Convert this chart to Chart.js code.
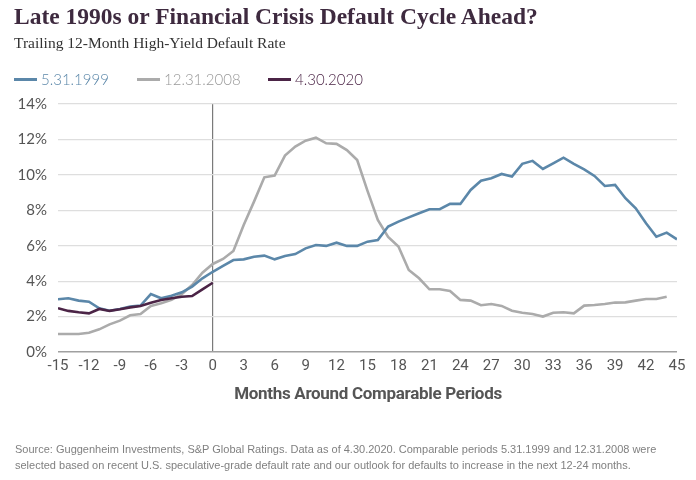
<!DOCTYPE html>
<html><head><meta charset="utf-8">
<script src="https://cdn.jsdelivr.net/npm/chart.js@4"></script>
<style>
body{margin:0;width:696px;height:480px;background:#fff;position:relative;overflow:hidden}
#wrap{position:absolute;left:0;top:0;width:696px;height:480px}
.t{position:absolute;white-space:nowrap}
.lg{position:absolute;top:70px;font:300 15px Lato,'Open Sans',sans-serif;display:flex;align-items:center}
.lg i{display:inline-block;width:23px;height:3px;margin-right:4px}
</style></head><body>
<div id="wrap"><canvas id="c"></canvas></div>
<div class="t" style="left:14px;top:3px;font:bold 23.5px 'Liberation Serif',serif;color:#3e2a3f">Late 1990s or Financial Crisis Default Cycle Ahead?</div>
<div class="t" style="left:14px;top:34px;font:15.5px 'Liberation Serif',serif;color:#333">Trailing 12-Month High-Yield Default Rate</div>
<div class="lg" style="left:14px;color:#5b87a9"><i style="background:#5b87a9"></i>5.31.1999</div>
<div class="lg" style="left:137px;color:#999"><i style="background:#ababab"></i>12.31.2008</div>
<div class="lg" style="left:268px;color:#4b2446"><i style="background:#4b2446"></i>4.30.2020</div>
<div class="t" style="left:0;width:736px;text-align:center;top:383px;font:bold 17px Roboto,sans-serif;color:#555;letter-spacing:-0.3px">Months Around Comparable Periods</div>
<div class="t" style="left:15px;top:441px;font:11px 'Liberation Sans',Arial,sans-serif;color:#808080;line-height:16px">Source: Guggenheim Investments, S&amp;P Global Ratings. Data as of 4.30.2020. Comparable periods 5.31.1999 and 12.31.2008 were<br>selected based on recent U.S. speculative-grade default rate and our outlook for defaults to increase in the next 12-24 months.</div>
<script>
const months1999 = [];
for (let m = -15; m <= 45; m++) months1999.push(m);
const months2008 = months1999.slice(0, 60);
const months2020 = months1999.slice(0, 16);

const rate1999 = [2.98,3.03,2.9,2.84,2.47,2.33,2.43,2.56,2.62,3.27,3.03,3.18,3.37,3.69,4.16,4.53,
  4.86,5.19,5.23,5.38,5.44,5.23,5.42,5.53,5.85,6.04,5.99,6.17,5.99,5.99,6.23,6.32,7.08,7.36,7.6,7.83,8.06,8.06,
  8.36,8.36,9.15,9.67,9.81,10.05,9.9,10.62,10.79,10.33,10.65,10.97,10.62,10.31,9.94,9.37,9.43,8.68,8.11,7.27,6.51,6.74,6.36];
const rate2008 = [1.02,1.02,1.02,1.09,1.28,1.56,1.77,2.07,2.14,2.6,2.75,2.94,3.27,3.78,4.48,4.97,
  5.25,5.7,7.17,8.49,9.86,9.96,11.09,11.6,11.93,12.1,11.78,11.75,11.4,10.84,9.1,7.45,6.5,5.95,4.63,4.16,3.54,3.54,
  3.44,2.94,2.9,2.64,2.71,2.6,2.33,2.22,2.15,2.0,2.22,2.24,2.18,2.62,2.65,2.71,2.79,2.8,2.9,2.99,2.99,3.12];
const rate2020 = [2.47,2.32,2.24,2.18,2.43,2.32,2.41,2.52,2.6,2.78,2.94,3.03,3.12,3.16,3.54,3.91];

const seriesNames = ['5.31.1999','12.31.2008','4.30.2020'];
const xMin = -15, xMax = 45, xStep = 3;
const yMin = 0, yMax = 14, yStep = 2;

const pts = (xs, ys) => xs.map((x, i) => ({x, y: ys[i]}));

new Chart(document.getElementById('c'), {
  type: 'line',
  data: {
    datasets: [
      {label: seriesNames[0], data: pts(months1999, rate1999), borderColor: '#5b87a9', borderWidth: 2.6, pointRadius: 0, tension: 0, order: 2},
      {label: seriesNames[1], data: pts(months2008, rate2008), borderColor: '#ababab', borderWidth: 2.6, pointRadius: 0, tension: 0, order: 3},
      {label: seriesNames[2], data: pts(months2020, rate2020), borderColor: '#4b2446', borderWidth: 2.6, pointRadius: 0, tension: 0, order: 1}
    ]
  },
  options: {
    responsive: true, maintainAspectRatio: false, animation: false,
    layout: {padding: {left: 0, right: 19, top: 104, bottom: 98}},
    plugins: {legend: {display: false}, tooltip: {enabled: false}},
    scales: {
      x: {
        type: 'linear', min: xMin, max: xMax,
        afterFit: s => { s.height = 30; },
        ticks: {stepSize: xStep, padding: 5, color: '#555', font: {family: "Roboto, sans-serif", size: 15}},
        grid: {drawTicks: false, color: c => c.tick && c.tick.value === 0 ? '#7a7a7a' : 'rgba(0,0,0,0)', lineWidth: 1.2},
        border: {display: false}
      },
      y: {
        min: yMin, max: yMax,
        afterFit: s => { s.width = 58; },
        ticks: {stepSize: yStep, padding: 11, color: '#555', font: {family: "Lato, 'Open Sans', sans-serif", size: 15}, callback: v => v + '%'},
        grid: {drawTicks: false, color: c => c.tick && c.tick.value === 0 ? '#a0a0a0' : '#dedede', lineWidth: c => c.tick && c.tick.value === 0 ? 1.5 : 1.2},
        border: {display: false}
      }
    }
  }
});
</script>
</body></html>
